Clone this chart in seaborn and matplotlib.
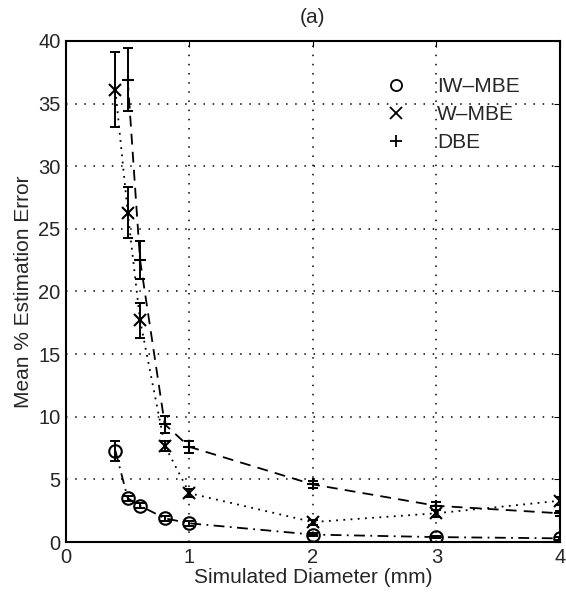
import numpy as np
import pandas as pd
import matplotlib
matplotlib.use('Agg')
import matplotlib.pyplot as plt
from matplotlib.lines import Line2D
import seaborn as sns

# ─── Data ─────────────────────────────────────────────────────────────────────
x_iw = [0.4, 0.5, 0.6, 0.8, 1, 2, 3, 4]
y_iw = [7.3, 3.5, 2.9, 1.9, 1.5, 0.6, 0.4, 0.3]
e_iw = [0.8, 0.2, 0.2, 0.2, 0.2, 0.1, 0.1, 0.1]

x_w = [0.4, 0.5, 0.6, 0.8, 1, 2, 3, 4]
y_w = [36.1, 26.3, 17.7, 7.7, 3.9, 1.6, 2.3, 3.3]
e_w = [3.0, 2.0, 1.4, 0.4, 0.3, 0.2, 0.3, 0.3]

x_dbe = [0.5, 0.6, 0.8, 1, 2, 3, 4]
y_dbe = [36.9, 22.5, 9.4, 7.6, 4.6, 2.9, 2.3]
e_dbe = [2.5, 1.5, 0.7, 0.5, 0.3, 0.3, 0.2]

labels = ['IW\u2013MBE', 'W\u2013MBE', 'DBE']
markers = ['o', 'x', '+']
dashes = [(6, 3, 1, 3), (1, 3), (6, 4)]

x_ticks = [0, 1, 2, 3, 4]
y_ticks = [0, 5, 10, 15, 20, 25, 30, 35, 40]

sns.set_style('white')
plt.rcParams['font.family'] = ['Liberation Sans', 'DejaVu Sans']

fig = plt.figure(figsize=(5.66, 6.01), dpi=100)
ax = fig.add_axes([0.1166, 0.098, 0.8724, 0.834])

series = [(x_iw, y_iw, e_iw), (x_w, y_w, e_w), (x_dbe, y_dbe, e_dbe)]
for (xs, ys, es), lab, mk, ds in zip(series, labels, markers, dashes):
    df = pd.DataFrame({'x': xs, 'y': ys})
    sns.lineplot(data=df, x='x', y='y', ax=ax, color='black', lw=1.3,
                 dashes=ds, marker=mk, markersize=9, markerfacecolor='none',
                 markeredgecolor='black', markeredgewidth=1.5, sort=False)
    ax.errorbar(xs, ys, yerr=es, fmt='none', ecolor='black', elinewidth=1.4,
                capsize=3.5, capthick=1.4)

ax.set_xlim(0, 4)
ax.set_ylim(0, 40)
ax.set_xticks(x_ticks)
ax.set_yticks(y_ticks)
ax.tick_params(direction='in', top=True, right=True, labelsize=14.5, length=4,
               color='black', pad=4)
ax.grid(True, linestyle=(0, (1, 5)), color='black', linewidth=1.1)
for sp in ax.spines.values():
    sp.set_color('black')
    sp.set_linewidth(1.5)

ax.set_xlabel('Simulated Diameter (mm)', fontsize=15, labelpad=1)
ax.set_ylabel('Mean % Estimation Error', fontsize=15, labelpad=4)
ax.set_title('(a)', fontsize=15, pad=13)

handles = [Line2D([], [], color='black', marker=m, linestyle='none',
                  markersize=8, markerfacecolor='none', markeredgewidth=1.3)
           for m in markers]
ax.legend(handles, labels, loc='upper left', frameon=False, fontsize=15,
          bbox_to_anchor=(0.615, 0.948), borderpad=0, handletextpad=1.25,
          labelspacing=0.42, handlelength=1.5)

fig.savefig('out.png', dpi=100)
